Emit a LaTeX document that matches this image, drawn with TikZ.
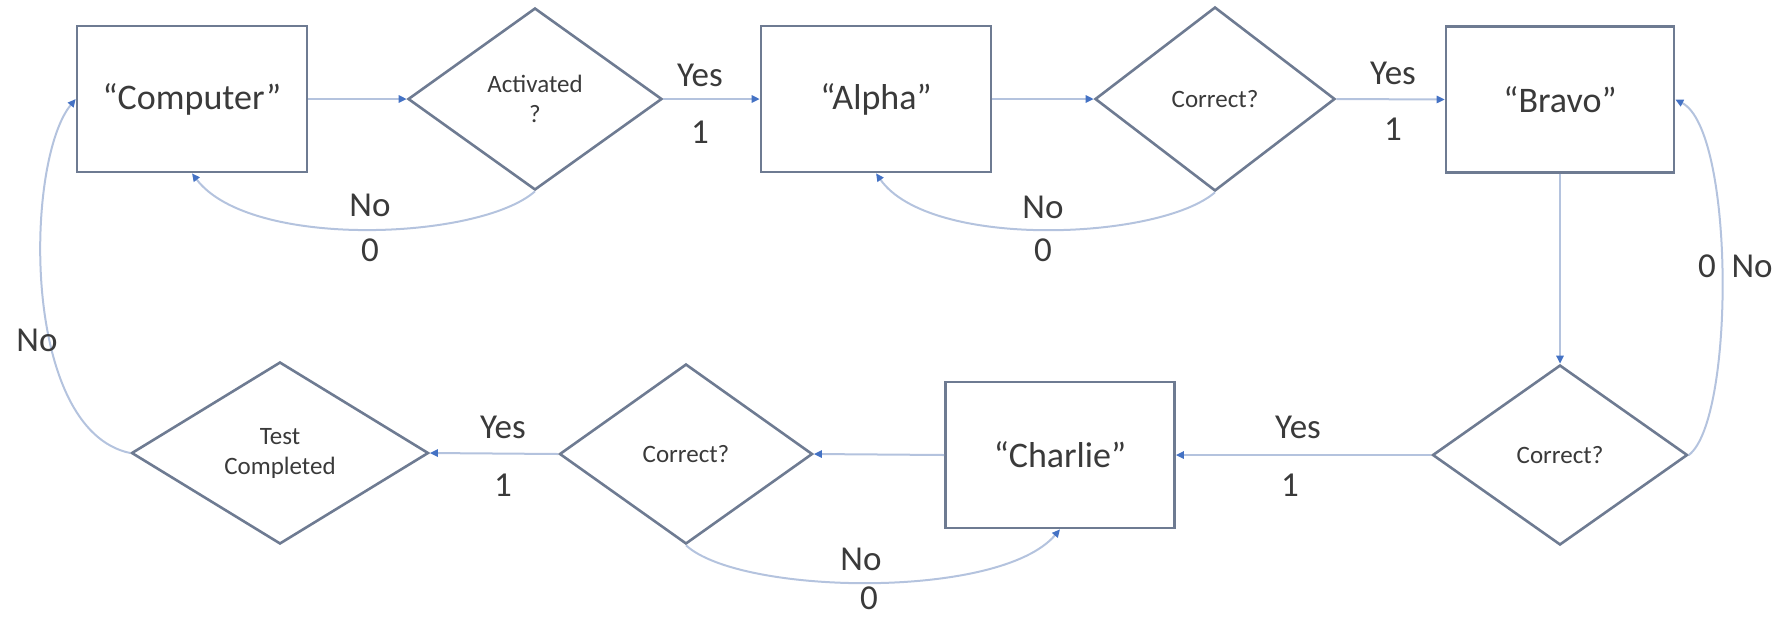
\documentclass[tikz,border=0pt]{standalone}
\usepackage{fontspec}
\setmainfont{Carlito}
\usetikzlibrary{shapes.geometric,arrows.meta}
\definecolor{edgegray}{HTML}{6E7B92}
\definecolor{linkblue}{HTML}{B4C3DE}
\definecolor{tipblue}{HTML}{4472C4}
\definecolor{txt}{HTML}{3A3A3A}
\begin{document}
\begin{tikzpicture}[x=0.5pt,y=-0.5pt,
  box/.style={draw=edgegray,line width=1.3pt,minimum width=115pt,minimum height=73pt,
    inner sep=0pt,text=txt,font=\fontsize{18pt}{21pt}\selectfont},
  decision/.style={diamond,draw=edgegray,line width=1.3pt,inner sep=0pt,text=txt,
    align=center,font=\fontsize{12.5pt}{15pt}\selectfont},
  link/.style={draw=linkblue,line width=1pt,
    -{Triangle[length=4pt,width=3.6pt,color=tipblue]}},
  lbl/.style={text=txt,inner sep=0pt,font=\fontsize{17.5pt}{20pt}\selectfont}]
\useasboundingbox (0,0) rectangle (1792,617);

% top row
\node[box] (comp) at (192,99) {“Computer”};
\node[decision,minimum width=127pt,minimum height=91pt] (act) at (535,99) {Activated\\?};
\node[box] (alpha) at (876,99) {“Alpha”};
\node[decision,minimum width=120pt,minimum height=92pt] (cor1) at (1215,99) {Correct?};
\node[box,minimum width=114pt] (bravo) at (1560,99.5) {“Bravo”};

% bottom row
\node[decision,minimum width=127.5pt,minimum height=90pt] (cor2) at (1560,455) {Correct?};
\node[box,minimum width=114.5pt] (charlie) at (1060,455) {“Charlie”};
\node[decision,minimum width=126.5pt,minimum height=90pt] (cor3) at (686,454) {Correct?};
\node[decision,minimum width=148.5pt,minimum height=91pt] (test) at (280,453) {Test\\Completed};

% straight connectors
\draw[link] (comp.east) -- (act.west);
\draw[link] (act.east) -- (alpha.west);
\draw[link] (alpha.east) -- (cor1.west);
\draw[link] (cor1.east) -- (bravo.west);
\draw[link] (bravo.south) -- (cor2.north);
\draw[link] (cor2.west) -- (charlie.east);
\draw[link] (charlie.west) -- (cor3.east);
\draw[link] (cor3.west) -- (test.east);

% loops back on "No"
\draw[link] (act.south) .. controls (480,240) and (250,250) .. (comp.south);
\draw[link] (cor1.south) .. controls (1160,240) and (930,250) .. (alpha.south);
\draw[link] (cor3.south) .. controls (740,595) and (1000,600) .. (charlie.south);
\draw[link] (cor2.east) .. controls (1735,420) and (1735,130) .. (bravo.east);
\draw[link] (test.west) .. controls (20,430) and (25,160) .. (comp.west);

% branch labels
\node[lbl] (y1) at (700,75) {Yes};
\node[lbl] (o1) at (700,132) {1};
\node[lbl] (y2) at (1393,73) {Yes};
\node[lbl] (o2) at (1393,129) {1};
\node[lbl] (y3) at (1298,427) {Yes};
\node[lbl] (o3) at (1290,485) {1};
\node[lbl] (y4) at (503,427) {Yes};
\node[lbl] (o4) at (503,485) {1};
\node[lbl] (n1) at (370,205) {No};
\node[lbl] (z1) at (370,250) {0};
\node[lbl] (n2) at (1043,207) {No};
\node[lbl] (z2) at (1043,250) {0};
\node[lbl] (n3) at (861,559) {No};
\node[lbl] (z3) at (869,598) {0};
\node[lbl] (z4) at (1707,266) {0};
\node[lbl] (n4) at (1752,266) {No};
\node[lbl] (n5) at (37,340) {No};
\end{tikzpicture}
\end{document}
